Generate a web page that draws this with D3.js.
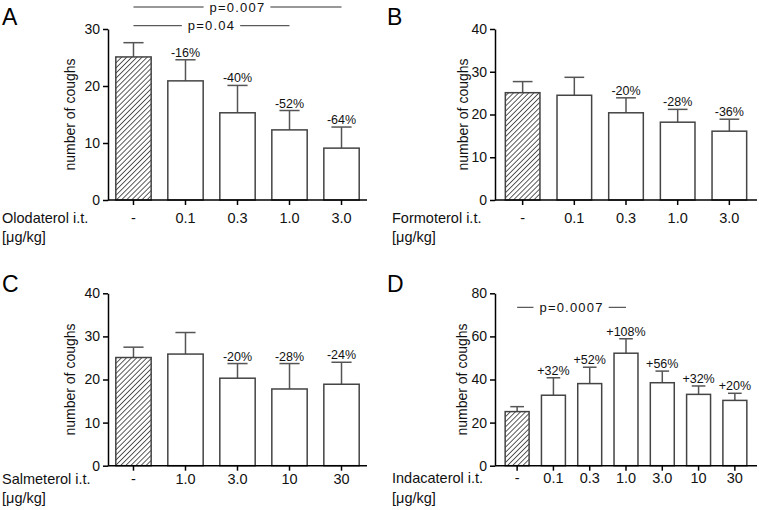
<!DOCTYPE html>
<html><head><meta charset="utf-8">
<script src="https://cdn.jsdelivr.net/npm/d3@7/dist/d3.min.js"></script>
<style>body{margin:0;background:#fff}svg{display:block;font-family:"Liberation Sans",Arial,sans-serif}</style>
</head><body>
<svg id="c" width="759" height="510"></svg>
<script>
// Data
const catsA = ["-", "0.1", "0.3", "1.0", "3.0"];
const meansA = [25.1, 20.9, 15.3, 12.3, 9.1];
const errTopA = [27.6, 24.6, 20.1, 15.7, 12.8];
const pctA = ["", "-16%", "-40%", "-52%", "-64%"];
const yTicksA = [0, 10, 20, 30];

const catsB = ["-", "0.1", "0.3", "1.0", "3.0"];
const meansB = [25.1, 24.5, 20.4, 18.2, 16.1];
const errTopB = [27.7, 28.7, 23.9, 21.2, 18.9];
const pctB = ["", "", "-20%", "-28%", "-36%"];
const yTicksB = [0, 10, 20, 30, 40];

const catsC = ["-", "1.0", "3.0", "10", "30"];
const meansC = [25.1, 25.9, 20.3, 17.8, 18.9];
const errTopC = [27.5, 30.9, 23.7, 23.7, 24.0];
const pctC = ["", "", "-20%", "-28%", "-24%"];
const yTicksC = [0, 10, 20, 30, 40];

const catsD = ["-", "0.1", "0.3", "1.0", "3.0", "10", "30"];
const meansD = [25.1, 32.7, 38.1, 52.2, 38.5, 33.1, 30.3];
const errTopD = [27.4, 40.8, 45.7, 58.9, 43.9, 37.0, 33.6];
const pctD = ["", "+32%", "+52%", "+108%", "+56%", "+32%", "+20%"];
const yTicksD = [0, 20, 40, 60, 80];

const pA = [{from: "-", to: "3.0", text: "p=0.007", row: 0}, {from: "-", to: "1.0", text: "p=0.04", row: 1}];
const pD = [{from: "-", to: "1.0", text: "p=0.0007", row: 0}];

const svg = d3.select("#c");
const defs = svg.append("defs");
const pat = defs.append("pattern").attr("id", "hatch").attr("patternUnits", "userSpaceOnUse")
  .attr("width", 3.6).attr("height", 3.6).attr("patternTransform", "rotate(45)");
pat.append("rect").attr("width", 3.6).attr("height", 3.6).attr("fill", "#fff");
pat.append("line").attr("x1", 0).attr("y1", 0).attr("x2", 0).attr("y2", 3.6)
  .attr("stroke", "#333").attr("stroke-width", 1.6);

const panels = [
  {letter: "A", lx: 2, ly: 25, cats: catsA, means: meansA, tops: errTopA, pct: pctA, ticks: yTicksA,
   drug: "Olodaterol i.t.", dx: 2, x0: 108, x1: 367, y0: 200, y1: 29, pi: 0.32, po: 0.15,
   catY: 222.5, unitY: 242, titleX: 70, pvals: pA, pY: [7, 25.7]},
  {letter: "B", lx: 387, ly: 25, cats: catsB, means: meansB, tops: errTopB, pct: pctB, ticks: yTicksB,
   drug: "Formoterol i.t.", dx: 392, x0: 495, x1: 757, y0: 200, y1: 29, pi: 0.33, po: 0.2,
   catY: 223, unitY: 242, titleX: 463, pvals: [], pY: []},
  {letter: "C", lx: 2, ly: 292, cats: catsC, means: meansC, tops: errTopC, pct: pctC, ticks: yTicksC,
   drug: "Salmeterol i.t.", dx: 2, x0: 108, x1: 367, y0: 465.7, y1: 293.3, pi: 0.32, po: 0.15,
   catY: 483.5, unitY: 503, titleX: 70, pvals: [], pY: []},
  {letter: "D", lx: 387, ly: 292, cats: catsD, means: meansD, tops: errTopD, pct: pctD, ticks: yTicksD,
   drug: "Indacaterol i.t.", dx: 392, x0: 495, x1: 757, y0: 465.7, y1: 293.3, pi: 0.34, po: 0.28,
   catY: 482.5, unitY: 503, titleX: 462, pvals: pD, pY: [307.3]}
];

panels.forEach(p => {
  const g = svg.append("g");
  const x = d3.scaleBand().domain(p.cats).range([p.x0, p.x1]).paddingInner(p.pi).paddingOuter(p.po);
  const y = d3.scaleLinear().domain([0, d3.max(p.ticks)]).range([p.y0, p.y1]);
  const bw = x.bandwidth();

  g.append("text").attr("x", p.lx).attr("y", p.ly).attr("font-size", 23).attr("fill", "#000").text(p.letter);

  // bars
  p.cats.forEach((c, i) => {
    const cx = x(c) + bw / 2;
    const capW = bw * 0.57;
    // error whisker
    g.append("line").attr("x1", cx).attr("x2", cx).attr("y1", y(p.means[i])).attr("y2", y(p.tops[i]))
      .attr("stroke", "#555").attr("stroke-width", 1.5);
    g.append("line").attr("x1", cx - capW / 2).attr("x2", cx + capW / 2).attr("y1", y(p.tops[i])).attr("y2", y(p.tops[i]))
      .attr("stroke", "#555").attr("stroke-width", 1.5);
    g.append("rect").attr("x", x(c)).attr("y", y(p.means[i])).attr("width", bw).attr("height", y(0) - y(p.means[i]))
      .attr("fill", i === 0 ? "url(#hatch)" : "#fff").attr("stroke", "#444").attr("stroke-width", 1.5);
    if (p.pct[i]) {
      g.append("text").attr("x", cx).attr("y", y(p.tops[i]) - 3).attr("text-anchor", "middle")
        .attr("font-size", 12.5).attr("fill", "#111").text(p.pct[i]);
    }
  });

  // y axis
  const ya = g.append("g").attr("transform", `translate(${p.x0},0)`)
    .call(d3.axisLeft(y).tickValues(p.ticks).tickSize(5).tickSizeOuter(0).tickPadding(3));
  ya.select(".domain").attr("stroke", "#000").attr("stroke-width", 1.5);
  ya.selectAll(".tick line").attr("stroke", "#000").attr("stroke-width", 1.5);
  ya.selectAll(".tick text").attr("font-size", 14).attr("fill", "#111").attr("font-family", "Liberation Sans, Arial, sans-serif");

  // x axis
  const xa = g.append("g").attr("transform", `translate(0,${p.y0})`)
    .call(d3.axisBottom(x).tickSize(5).tickSizeOuter(0).tickFormat(() => ""));
  xa.select(".domain").attr("stroke", "#000").attr("stroke-width", 1.5).attr("d", `M${p.x0},0H${p.x1}`);
  xa.selectAll(".tick line").attr("stroke", "#000").attr("stroke-width", 1.5);

  p.cats.forEach(c => {
    g.append("text").attr("x", x(c) + bw / 2).attr("y", p.catY).attr("text-anchor", "middle")
      .attr("font-size", 14.5).attr("fill", "#111").text(c);
  });

  g.append("text").attr("x", p.dx).attr("y", p.catY).attr("font-size", 14.5).attr("fill", "#111").text(p.drug);
  g.append("text").attr("x", p.dx).attr("y", p.unitY).attr("font-size", 14.5).attr("fill", "#111").text("[μg/kg]");

  // y title
  g.append("text").attr("transform", `translate(${p.titleX + 5},${(p.y0 + p.y1) / 2}) rotate(-90)`)
    .attr("text-anchor", "middle").attr("font-size", 14).attr("fill", "#111").text("number of coughs");

  // p-values
  p.pvals.forEach((pv, k) => {
    const xa1 = x(pv.from) + bw / 2, xa2 = x(pv.to) + bw / 2;
    const yy = p.pY[pv.row];
    const t = g.append("text").attr("x", (xa1 + xa2) / 2).attr("y", yy + 4.5).attr("text-anchor", "middle")
      .attr("font-size", 13).attr("letter-spacing", 1.2).attr("fill", "#111").text(pv.text);
    const w = t.node().getComputedTextLength();
    const mid = (xa1 + xa2) / 2;
    g.append("line").attr("x1", xa1).attr("x2", mid - w / 2 - 6).attr("y1", yy).attr("y2", yy).attr("stroke", "#333").attr("stroke-width", 1);
    g.append("line").attr("x1", mid + w / 2 + 5).attr("x2", xa2).attr("y1", yy).attr("y2", yy).attr("stroke", "#333").attr("stroke-width", 1);
  });
});
</script>
</body></html>
